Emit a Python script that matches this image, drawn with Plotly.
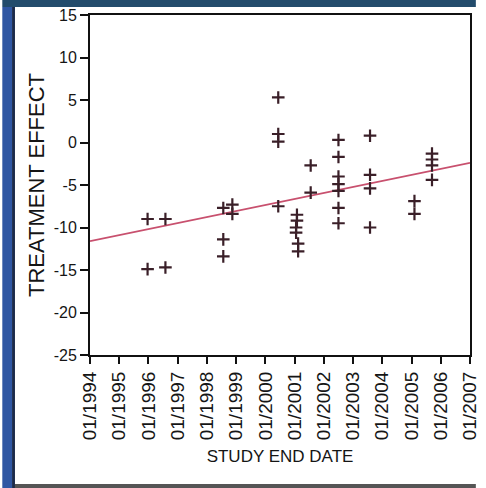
import plotly.graph_objects as go

# ---- data ----
study_end_year = [
    1995.97, 1995.97,
    1996.58, 1996.58,
    1998.56, 1998.56, 1998.56,
    1998.87, 1998.87,
    2000.44, 2000.44, 2000.44, 2000.44,
    2001.08, 2001.08, 2001.05, 2001.05, 2001.12, 2001.12,
    2001.55, 2001.55,
    2002.5, 2002.5, 2002.5, 2002.5, 2002.5, 2002.5, 2002.5,
    2003.58, 2003.58, 2003.58, 2003.58,
    2005.1, 2005.1,
    2005.7, 2005.7, 2005.7, 2005.7,
]
treatment_effect = [
    -9.0, -14.9,
    -9.0, -14.7,
    -7.7, -11.4, -13.4,
    -7.3, -8.4,
    5.3, 1.0, 0.1, -7.5,
    -8.5, -9.2, -10.0, -10.6, -11.9, -12.8,
    -2.7, -5.9,
    0.3, -1.7, -4.0, -4.9, -5.7, -7.7, -9.5,
    0.8, -3.8, -5.4, -10.0,
    -6.9, -8.4,
    -1.3, -2.0, -2.7, -4.4,
]
trend_years = [1994, 2007]
trend_values = [-11.6, -2.4]

tick_years = list(range(1994, 2008))
tick_labels = [f"01/{y}" for y in tick_years]
y_ticks = [15, 10, 5, 0, -5, -10, -15, -20, -25]
y_tick_labels = [str(v) for v in y_ticks]

# ---- figure ----
fig = go.Figure()
fig.add_trace(go.Scatter(
    x=trend_years, y=trend_values, mode="lines",
    line=dict(color="#c8506e", width=1.6), hoverinfo="skip", showlegend=False,
))
fig.add_trace(go.Scatter(
    x=study_end_year, y=treatment_effect, mode="markers",
    marker=dict(symbol="cross-thin", size=9, line=dict(color="#3a1f28", width=2.2)),
    showlegend=False,
))

W, H = 486, 488
L, R, T, B = 90, 6, 15, 133
pw, ph = W - L - R, H - T - B

def px(x):
    return (x - L) / pw

def py(y):
    return 1 - (y - T) / ph

shapes = [
    dict(type="rect", xref="paper", yref="paper", x0=px(0), x1=px(W), y0=py(7), y1=py(0),
         fillcolor="#234c6c", line_width=0, layer="below"),
    dict(type="rect", xref="paper", yref="paper", x0=px(0), x1=px(10), y0=py(H), y1=py(7),
         fillcolor="#3057a3", line_width=0, layer="below"),
    dict(type="rect", xref="paper", yref="paper", x0=px(10), x1=px(13), y0=py(H), y1=py(7),
         fillcolor="#1b2a4a", line_width=0, layer="below"),
    dict(type="rect", xref="paper", yref="paper", x0=px(13), x1=px(W), y0=py(H), y1=py(484),
         fillcolor="#555555", line_width=0, layer="below"),
]

REG = "Liberation Sans, Arial, sans-serif"

fig.update_layout(
    width=W, height=H,
    margin=dict(l=L, r=R, t=T, b=B),
    paper_bgcolor="white", plot_bgcolor="white",
    font=dict(family=REG, color="#151515", size=14),
    shapes=shapes,
    xaxis=dict(
        range=[1994, 2007], tickvals=tick_years, ticktext=tick_labels,
        tickangle=-90, ticks="outside", ticklen=7, tickwidth=2, tickcolor="#111",
        showline=True, linecolor="#111", linewidth=2, mirror=True,
        showgrid=False, zeroline=False, ticklabeloverflow="allow",
        tickfont=dict(family=REG, size=19),
        title=dict(text="STUDY END DATE", font=dict(family=REG, size=17), standoff=11),
    ),
    yaxis=dict(
        range=[-25, 15], tickvals=y_ticks, ticktext=y_tick_labels,
        ticks="outside", ticklen=8, tickwidth=2,
        tickcolor="#111", showline=True, linecolor="#111", linewidth=2, mirror=True,
        showgrid=False, zeroline=False,
        tickfont=dict(family=REG, size=16),
        title=dict(text="TREATMENT EFFECT", font=dict(family=REG, size=22), standoff=3),
    ),
)

fig.write_html("out.html")
